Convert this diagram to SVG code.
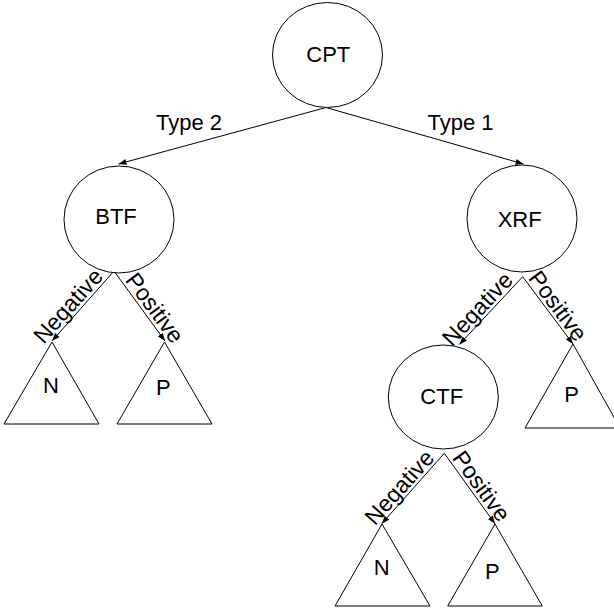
<svg xmlns="http://www.w3.org/2000/svg" width="614" height="609" viewBox="0 0 614 609">
<style>
.n{fill:#fff;stroke:#000;stroke-width:1}
.t{font-family:"Liberation Sans",Arial,Helvetica,sans-serif;font-size:22px;fill:#000;text-anchor:middle}
.l{font-size:23px}
.c{stroke:#000;stroke-width:1;fill:none;marker-end:url(#ah)}
</style>
<defs>
<marker id="ah" markerUnits="userSpaceOnUse" markerWidth="8" markerHeight="8" viewBox="0 0 8 6" refX="8" refY="3" orient="auto">
<path d="M0,0 L8,3 L0,6 z" fill="#000"/>
</marker>
</defs>
<rect width="614" height="609" fill="#fff"/>
<g id="connectors">
<line class="c" x1="326" y1="107.5" x2="118.5" y2="164"/>
<line class="c" x1="326" y1="107.5" x2="523.5" y2="164"/>
<line class="c" x1="114" y1="271" x2="52" y2="341"/>
<line class="c" x1="114" y1="271" x2="165" y2="341"/>
<line class="c" x1="522.7" y1="276.7" x2="459.3" y2="344.5"/>
<line class="c" x1="522.7" y1="276.7" x2="573" y2="344"/>
<line class="c" x1="444.3" y1="453.3" x2="381.7" y2="523.8"/>
<line class="c" x1="444.3" y1="453.3" x2="495" y2="523.8"/>
<text class="t" x="189" y="130">Type 2</text>
<text class="t" x="460.5" y="130">Type 1</text>
<text class="t l" transform="translate(76.2,313.1) rotate(-48.1)" y="-3">Negative</text>
<text class="t l" transform="translate(146.1,314.5) rotate(53.5)" y="-3">Positive</text>
<text class="t l" transform="translate(485.3,316.4) rotate(-46.7)" y="-3">Negative</text>
<text class="t l" transform="translate(549.2,312.4) rotate(53.4)" y="-3">Positive</text>
<text class="t l" transform="translate(407.4,494.6) rotate(-48.2)" y="-3">Negative</text>
<text class="t l" transform="translate(472.7,492.5) rotate(54.1)" y="-3">Positive</text>
</g>
<g id="CPT"><ellipse class="n" cx="327.5" cy="55" rx="55" ry="52.5"/><text class="t" x="328.3" y="62.3">CPT</text></g>
<g id="BTF"><ellipse class="n" cx="119" cy="219.5" rx="55" ry="53.5"/><text class="t" x="116" y="224.3">BTF</text></g>
<g id="XRF"><ellipse class="n" cx="522" cy="218.5" rx="55" ry="53.5"/><text class="t" x="519.7" y="226.7">XRF</text></g>
<g id="CTF"><ellipse class="n" cx="443.3" cy="397" rx="55" ry="52"/><text class="t" x="441.7" y="404.3">CTF</text></g>
<g id="N1"><polygon class="n" points="52,342 99,424 4,424"/><text class="t" x="51" y="393.3">N</text></g>
<g id="P1"><polygon class="n" points="164.5,342 212,424 117,424"/><text class="t" x="163.3" y="395">P</text></g>
<g id="P2"><polygon class="n" points="573,344 620,428 525,428"/><text class="t" x="571.7" y="401.7">P</text></g>
<g id="N2"><polygon class="n" points="382,524 430,606 335,606"/><text class="t" x="381.7" y="575">N</text></g>
<g id="P3"><polygon class="n" points="495,524 542.3,606 447.7,606"/><text class="t" x="492.3" y="579.3">P</text></g>
</svg>
